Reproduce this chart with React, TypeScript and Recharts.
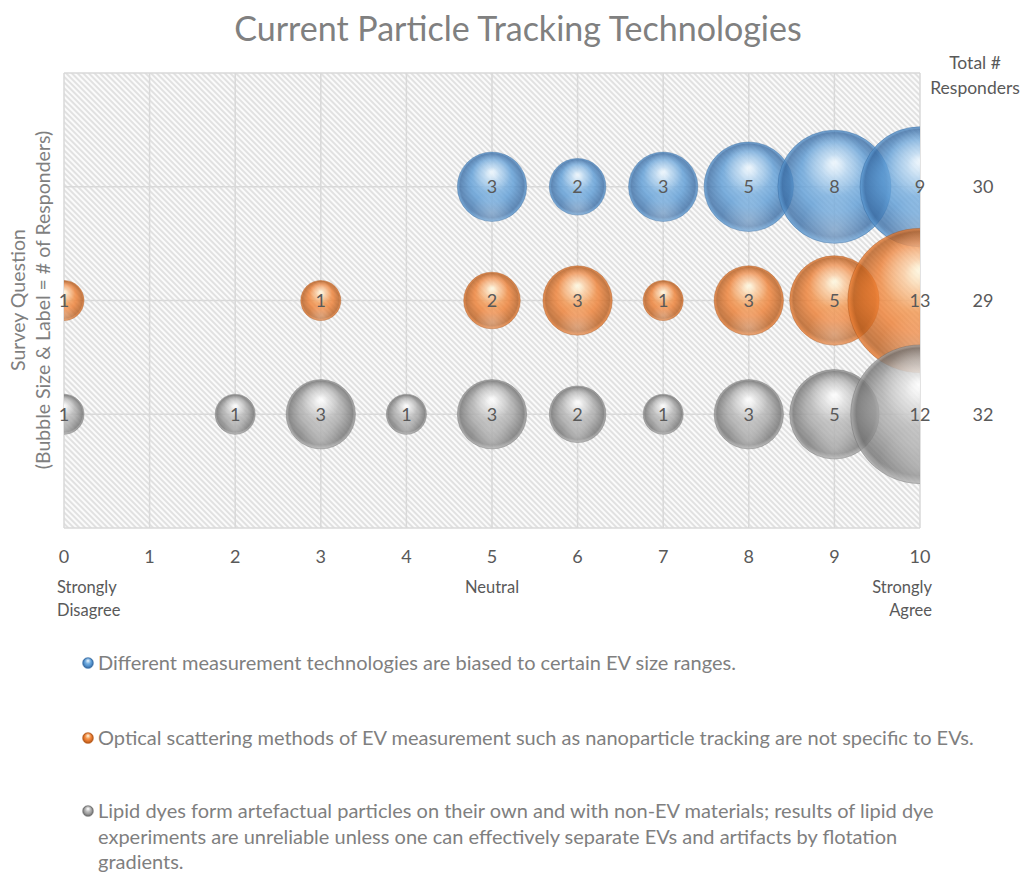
import React from 'react';
import { ScatterChart, Scatter, XAxis, YAxis, ZAxis, CartesianGrid } from 'recharts';

const FONT = 'Lato, "Open Sans", sans-serif';

const xTicks = [0, 1, 2, 3, 4, 5, 6, 7, 8, 9, 10];
const yTicks = [0, 1, 2, 3, 4];
const rowTicks = [1, 2, 3];
const rowTotals = [32, 29, 30];
const subLabelTicks = [0, 5, 10];
const subLabelLines = [['Strongly', 'Disagree'], ['Neutral'], ['Strongly', 'Agree']];
const yTitleLines = ['Survey Question', '(Bubble Size & Label = # of Responders)'];

const blueX = [5, 6, 7, 8, 9, 10];
const blueZ = [3, 2, 3, 5, 8, 9];
const orangeX = [0, 3, 5, 6, 7, 8, 9, 10];
const orangeZ = [1, 1, 2, 3, 1, 3, 5, 13];
const grayX = [0, 2, 3, 4, 5, 6, 7, 8, 9, 10];
const grayZ = [1, 1, 3, 1, 3, 2, 1, 3, 5, 12];

const seriesNames = [
  'Different measurement technologies are biased to certain EV size ranges.',
  'Optical scattering methods of EV measurement such as nanoparticle tracking are not specific to EVs.',
  'Lipid dyes form artefactual particles on their own and with non-EV materials; results of lipid dye experiments are unreliable unless one can effectively separate EVs and artifacts by flotation gradients.',
];
const seriesRows = [3, 2, 1];
const seriesIds = ['blue', 'orange', 'gray'];
const seriesPalette = [
  { hi: '#d6ecfc', light: '#8fbfe8', base: '#5b9bd5', dark: '#3b6ea6', edge: '#2f5f94' },
  { hi: '#fff1b8', light: '#f7ae6a', base: '#ed7d31', dark: '#b85c1c', edge: '#9c4c15' },
  { hi: '#ffffff', light: '#cfcfcf', base: '#a5a5a5', dark: '#727272', edge: '#626262' },
];

const buildData = (xs: number[], zs: number[], row: number) =>
  xs.map((x, i) => ({ x, y: row, z: zs[i] }));

const seriesData = [
  buildData(blueX, blueZ, seriesRows[0]),
  buildData(orangeX, orangeZ, seriesRows[1]),
  buildData(grayX, grayZ, seriesRows[2]),
];
const allPoints = [...seriesData[0], ...seriesData[1], ...seriesData[2]];

const makeSphere = (idx: number) => (p: any) => {
  const r = p.width ? p.width / 2 : Math.sqrt(p.size / Math.PI);
  const id = seriesIds[idx];
  return (
    <g>
      <circle cx={p.cx} cy={p.cy} r={r} fill={`url(#sph-${id})`} fillOpacity={0.8}
        stroke={seriesPalette[idx].edge} strokeOpacity={0.4} strokeWidth={1} />
      <circle cx={p.cx} cy={p.cy} r={r} fill="url(#sph-shine)" />
      <circle cx={p.cx} cy={p.cy} r={r} fill="url(#sph-bottom)" />
    </g>
  );
};

const LabelShape = (p: any) => (
  <text x={p.cx} y={p.cy} dy="0.36em" textAnchor="middle" fontFamily={FONT} fontSize={18} fill="#595959">
    {p.payload.z}
  </text>
);

const XTick = (p: any) => {
  const v = p.payload.value;
  const i = subLabelTicks.indexOf(v);
  const anchor = i === 0 ? 'start' : i === 2 ? 'end' : 'middle';
  const dx = i === 0 ? -7 : i === 2 ? 12 : 0;
  return (
    <g>
      <text x={p.x} y={p.y} dy={27} textAnchor="middle" fontFamily={FONT} fontSize={18} fill="#595959">{v}</text>
      {i >= 0 && subLabelLines[i].map((line, k) => (
        <text key={k} x={p.x + dx} y={p.y} dy={57 + k * 23} textAnchor={anchor} fontFamily={FONT} fontSize={16.5} fill="#595959">{line}</text>
      ))}
    </g>
  );
};

const RightTick = (p: any) => {
  const i = rowTicks.indexOf(p.payload.value);
  if (i < 0) return null;
  return (
    <text x={p.x} y={p.y} dx={55} dy="0.36em" textAnchor="middle" fontFamily={FONT} fontSize={18} fill="#595959">
      {rowTotals[i]}
    </text>
  );
};

const RightLabel = (p: any) => {
  const vb = p.viewBox || {};
  const cx = vb.x + 55;
  return (
    <g>
      <text x={cx} y={vb.y - 4} textAnchor="middle" fontFamily={FONT} fontSize={17.5} fill="#595959">Total #</text>
      <text x={cx} y={vb.y + 21} textAnchor="middle" fontFamily={FONT} fontSize={17.5} fill="#595959">Responders</text>
    </g>
  );
};

const SphereDefs = ({ prefix }: { prefix: string }) => (
  <>
    {seriesIds.map((id, i) => (
      <radialGradient key={id} id={`${prefix}-${id}`} cx="50%" cy="50%" r="50%" fx="50%" fy="28%">
        <stop offset="0%" stopColor={seriesPalette[i].hi} />
        <stop offset="22%" stopColor={seriesPalette[i].light} />
        <stop offset="62%" stopColor={seriesPalette[i].base} />
        <stop offset="92%" stopColor={seriesPalette[i].dark} />
        <stop offset="100%" stopColor={seriesPalette[i].base} />
      </radialGradient>
    ))}
    <radialGradient id={`${prefix}-shine`} cx="50%" cy="30%" r="28%">
      <stop offset="0%" stopColor="#ffffff" stopOpacity={0.55} />
      <stop offset="100%" stopColor="#ffffff" stopOpacity={0} />
    </radialGradient>
    <radialGradient id={`${prefix}-bottom`} cx="50%" cy="88%" r="30%">
      <stop offset="0%" stopColor="#ffffff" stopOpacity={0.28} />
      <stop offset="100%" stopColor="#ffffff" stopOpacity={0} />
    </radialGradient>
  </>
);

const LegendIcon = ({ idx }: { idx: number }) => (
  <svg width={12} height={12} style={{ flex: '0 0 auto', marginTop: 7, marginRight: 4 }}>
    <defs><SphereDefs prefix={`lg${idx}`} /></defs>
    <circle cx={6} cy={6} r={5.5} fill={`url(#lg${idx}-${seriesIds[idx]})`} stroke={seriesPalette[idx].edge} strokeOpacity={0.5} strokeWidth={0.8} />
    <circle cx={6} cy={6} r={5.5} fill={`url(#lg${idx}-shine)`} />
  </svg>
);

const legendTops = [650, 725, 798];

export default function App() {
  return (
    <div style={{ position: 'absolute', left: 0, top: 0, width: 1022, height: 873, background: '#ffffff', fontFamily: FONT }}>
      <div style={{ position: 'absolute', left: 0, top: 5, width: 1036, textAlign: 'center', fontSize: 34, color: '#808080', lineHeight: '46px' }}>
        Current Particle Tracking Technologies
      </div>
      <div style={{ position: 'absolute', left: 0, top: 0 }}>
        <ScatterChart width={1022} height={640} margin={{ top: 73, right: 0, bottom: 0, left: 64 }}>
          <defs>
            <pattern id="hatch" patternUnits="userSpaceOnUse" width={4} height={4} patternTransform="rotate(45)">
              <rect width={4} height={4} fill="#fbfbfb" />
              <line x1={0} y1={1} x2={4} y2={1} stroke="#d4d4d4" strokeWidth={1.3} />
            </pattern>
            <SphereDefs prefix="sph" />
          </defs>
          <CartesianGrid fill="url(#hatch)" fillOpacity={1} stroke="#d9d9d9" strokeWidth={1.5} verticalValues={xTicks} horizontalValues={yTicks} />
          <XAxis xAxisId={0} type="number" dataKey="x" domain={[0, 10]} ticks={xTicks} allowDataOverflow
            height={112} tickLine={false} axisLine={false} tick={<XTick />} interval={0} />
          <XAxis xAxisId="lbl" type="number" dataKey="x" domain={[0, 10]} hide />
          <YAxis yAxisId={0} orientation="right" type="number" dataKey="y" domain={[0, 4]} ticks={yTicks} allowDataOverflow
            width={102} tickLine={false} axisLine={false} tick={<RightTick />} label={{ content: <RightLabel /> }} interval={0} />
          <YAxis yAxisId="lbl" type="number" dataKey="y" domain={[0, 4]} hide />
          <ZAxis type="number" dataKey="z" domain={[0, 13]} range={[0, Math.PI * 400 * 13]} />
          {seriesData.map((d, i) => (
            <Scatter key={seriesIds[i]} name={seriesNames[i]} data={d} xAxisId={0} yAxisId={0}
              shape={makeSphere(i)} isAnimationActive={false} />
          ))}
          <Scatter name="labels" data={allPoints} xAxisId="lbl" yAxisId="lbl" shape={<LabelShape />} isAnimationActive={false} />
        </ScatterChart>
      </div>
      <svg style={{ position: 'absolute', left: 0, top: 73 }} width={64} height={455}>
        {yTitleLines.map((t, k) => {
          const x = 18 + k * 25;
          return (
            <text key={k} x={x} y={227} transform={`rotate(-90 ${x} 227)`} dy="0.36em" textAnchor="middle"
              fontFamily={FONT} fontSize={19.5} fill="#7f7f7f">{t}</text>
          );
        })}
      </svg>
      {seriesNames.map((n, i) => (
        <div key={i} style={{ position: 'absolute', left: 82, top: legendTops[i], width: 898, display: 'flex', alignItems: 'flex-start', fontSize: 20, lineHeight: '25.5px', color: '#7f7f7f' }}>
          <LegendIcon idx={i} />
          <span>{n}</span>
        </div>
      ))}
    </div>
  );
}
